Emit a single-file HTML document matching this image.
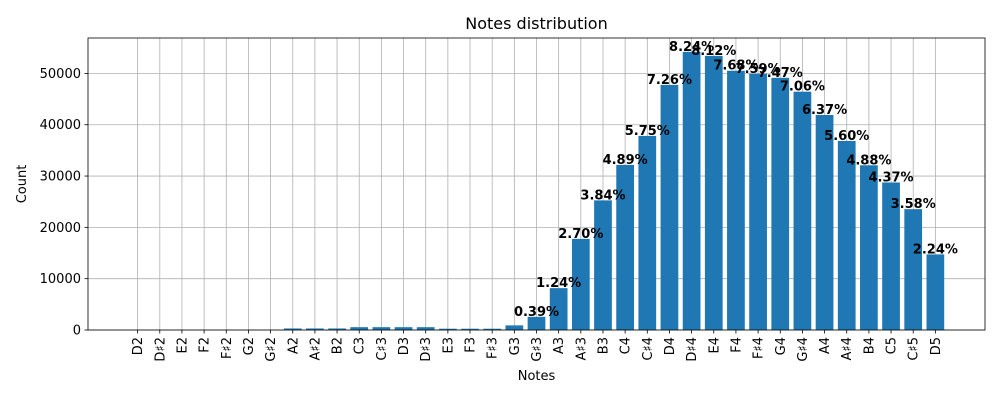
<!DOCTYPE html>
<html><head><meta charset="utf-8"><style>
body{margin:0;background:#fff}
svg{display:block;font-family:"DejaVu Sans","Liberation Sans",sans-serif}
</style></head><body>
<svg id="chart" width="1000" height="400" viewBox="0 0 1000 400">
<rect width="1000" height="400" fill="#fff"/>
<text x="536.5" y="29" font-size="16" text-anchor="middle">Notes distribution</text>
<g id="grid"></g><g id="bars"></g><g id="labels"></g><g id="axes"></g>
<text x="536.5" y="380" font-size="13" text-anchor="middle">Notes</text>
<text transform="translate(26,184) rotate(-90)" font-size="13" text-anchor="middle">Count</text>
</svg>
<script>
const categories = ["D2","D♯2","E2","F2","F♯2","G2","G♯2","A2","A♯2","B2","C3","C♯3","D3","D♯3","E3","F3","F♯3","G3","G♯3","A3","A♯3","B3","C4","C♯4","D4","D♯4","E4","F4","F♯4","G4","G♯4","A4","A♯4","B4","C5","C♯5","D5"];
const counts = [0,0,0,0,0,0,0,300,300,300,550,550,550,550,250,250,250,900,2565,8157,17760,25260,32170,37820,47760,54200,53410,50520,49930,49140,46440,41900,36840,32100,28750,23550,14730];
const yTicks = [0,10000,20000,30000,40000,50000];

const NS="http://www.w3.org/2000/svg";
const L=88,R=985,T=38,B=330;
const n=categories.length;
const xmin=-0.4-0.05*(n-1+0.8), xmax=n-1+0.4+0.05*(n-1+0.8);
const X=i=>L+(i-xmin)/(xmax-xmin)*(R-L);
const ymax=56900;
const Y=v=>B-v/ymax*(B-T);
const total=counts.reduce((a,b)=>a+b,0);
function mk(tag,attrs,parent){const e=document.createElementNS(NS,tag);for(const k in attrs)e.setAttribute(k,attrs[k]);parent.appendChild(e);return e;}
const grid=document.getElementById('grid'),bars=document.getElementById('bars'),labels=document.getElementById('labels'),axes=document.getElementById('axes');
categories.forEach((c,i)=>{
  const x=X(i);
  const gl=mk('line',{x1:x,x2:x,y1:T,y2:B,stroke:'#b0b0b0','stroke-width':0.8},grid);
  
  
  const w=0.8*(X(1)-X(0));
  const r=mk('rect',{x:x-w/2,y:Y(counts[i]),width:w,height:B-Y(counts[i]),fill:'#1f77b4'},bars);
  
  
  const tk=mk('line',{x1:x,x2:x,y1:B,y2:B+3.5,stroke:'#000','stroke-width':0.8},axes);
  
  
  const t=mk('text',{transform:`translate(${x+4.5},${B+7}) rotate(-90)`,'font-size':13,'text-anchor':'end'},axes);
  t.textContent=c;
  
  
  const p=counts[i]/total*100;
  if(p>=0.3){
    const lt=mk('text',{x:x,y:Y(counts[i])-1,'font-size':13,'font-weight':'bold','text-anchor':'middle'},labels);
    lt.textContent=p.toFixed(2)+'%';
    
    
  }
});
yTicks.forEach(v=>{
  const y=Y(v);
  const gl=mk('line',{x1:L,x2:R,y1:y,y2:y,stroke:'#b0b0b0','stroke-width':0.8},grid);
  
  
  const tk=mk('line',{x1:L-3.5,x2:L,y1:y,y2:y,stroke:'#000','stroke-width':0.8},axes);
  
  
  const t=mk('text',{x:L-7,y:y+4.5,'font-size':13,'text-anchor':'end'},axes);
  t.textContent=v;
  
  
});
const frame=mk('rect',{x:L,y:T,width:R-L,height:B-T,fill:'none',stroke:'#000','stroke-width':0.8},axes);


</script>
</body></html>
